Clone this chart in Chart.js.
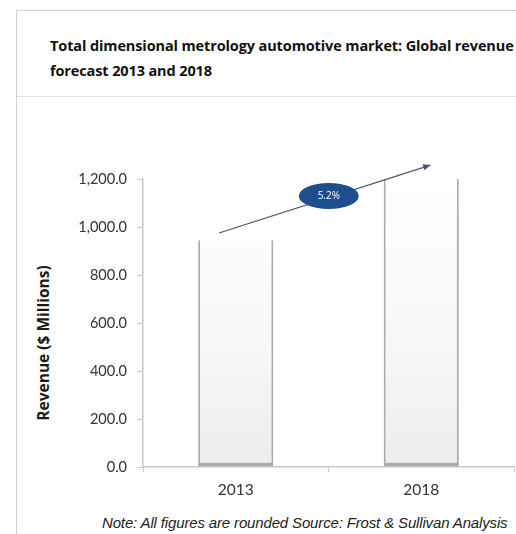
<!DOCTYPE html>
<html><head><meta charset="utf-8">
<script src="https://cdn.jsdelivr.net/npm/chart.js@4.4.0/dist/chart.umd.min.js"></script>
<style>
html,body{margin:0;padding:0;background:#fff;width:516px;height:534px;overflow:hidden;position:relative;}
.line{position:absolute;background:#d2d2d2;}
#title{position:absolute;left:50px;top:33px;font-family:"Open Sans",sans-serif;font-weight:700;font-size:14.5px;line-height:25px;color:#111;letter-spacing:-0.12px;white-space:nowrap;}
#note{position:absolute;left:102px;top:514px;font-family:"Liberation Sans",Arial,sans-serif;font-style:italic;font-size:15px;line-height:18px;color:#222;white-space:nowrap;letter-spacing:-0.15px;}
#ytitle{position:absolute;left:43px;top:343px;transform:translate(-50%,-50%) rotate(-90deg);font-family:"Open Sans",sans-serif;font-weight:700;font-size:15.5px;line-height:18px;color:#1a1a1a;white-space:nowrap;}
#wrap{position:absolute;left:0;top:0;width:516px;height:534px;}
</style></head>
<body>
<div class="line" style="left:16px;top:10px;width:1px;height:524px;"></div>
<div class="line" style="left:16px;top:10px;width:500px;height:1px;"></div>
<div class="line" style="left:17px;top:96px;width:499px;height:1px;background:#e4e4e4;"></div>
<div id="title">Total dimensional metrology automotive market: Global revenue<br>forecast 2013 and 2018</div>
<div id="note">Note: All figures are rounded Source: Frost &amp; Sullivan Analysis</div>
<div id="ytitle">Revenue ($ Millions)</div>
<div id="wrap"><canvas id="c" width="516" height="534"></canvas></div>
<script>
const categories = ['2013', '2018'];
const revenue = [945, 1200];
const yTicks = [0, 200, 400, 600, 800, 1000, 1200];
const growthLabel = '5.2%';
const arrowStart = [-0.09, 975];
const arrowEnd = [1.05, 1258];

const annot = {
  id: 'annot',
  afterDatasetsDraw(chart) {
    const {ctx, scales: {x, y}} = chart;
    const x1 = x.getPixelForValue(arrowStart[0]), y1 = y.getPixelForValue(arrowStart[1]);
    const x2 = x.getPixelForValue(arrowEnd[0]), y2 = y.getPixelForValue(arrowEnd[1]);
    ctx.save();
    ctx.strokeStyle = '#4a5570';
    ctx.fillStyle = '#4a5570';
    ctx.lineWidth = 1.3;
    ctx.beginPath(); ctx.moveTo(x1, y1); ctx.lineTo(x2, y2); ctx.stroke();
    const ang = Math.atan2(y2 - y1, x2 - x1);
    ctx.beginPath();
    ctx.moveTo(x2, y2);
    ctx.lineTo(x2 - 8 * Math.cos(ang - 0.4), y2 - 8 * Math.sin(ang - 0.4));
    ctx.lineTo(x2 - 8 * Math.cos(ang + 0.4), y2 - 8 * Math.sin(ang + 0.4));
    ctx.closePath(); ctx.fill();
    const cx = (x1 + x2) / 2 + 4, cy = (y1 + y2) / 2 - 3;
    ctx.fillStyle = '#1d4e8f';
    ctx.beginPath(); ctx.ellipse(cx, cy, 30, 13, 0, 0, Math.PI * 2); ctx.fill();
    ctx.fillStyle = '#ffffff';
    ctx.font = '10px "Open Sans", sans-serif';
    ctx.textAlign = 'center'; ctx.textBaseline = 'middle';
    ctx.fillText(growthLabel, cx, cy);
    ctx.restore();
  }
};

new Chart(document.getElementById('c'), {
  type: 'bar',
  data: {
    labels: categories,
    datasets: [{
      data: revenue,
      backgroundColor(ctx) {
        const ca = ctx.chart.chartArea;
        if (!ca) return '#f2f2f2';
        const g = ctx.chart.ctx.createLinearGradient(0, ca.top, 0, ca.bottom);
        g.addColorStop(0, '#ffffff');
        g.addColorStop(0.6, '#f7f7f7');
        g.addColorStop(1, '#ececec');
        return g;
      },
      borderColor: '#ababab',
      borderWidth: {left: 2, right: 2, bottom: 4, top: 0},
      borderSkipped: false,
      categoryPercentage: 1,
      barPercentage: 0.405
    }]
  },
  options: {
    responsive: false,
    animation: false,
    events: [],
    layout: {padding: {top: 179, right: 2, left: 0, bottom: 0}},
    plugins: {legend: {display: false}, tooltip: {enabled: false}},
    scales: {
      x: {
        grid: {offset: true, drawOnChartArea: false, drawTicks: true, tickLength: 5, color: '#c8c8c8'},
        border: {color: '#c8c8c8', width: 1.5},
        ticks: {color: '#333', font: {family: 'Lato', size: 15.5}, padding: 9},
        afterFit(s) { s.height = 67; }
      },
      y: {
        min: 0, max: 1200,
        afterBuildTicks(s) { s.ticks = yTicks.map(v => ({value: v})); },
        grid: {drawOnChartArea: false, drawTicks: true, tickLength: 6, color: '#c8c8c8'},
        border: {color: '#c8c8c8', width: 1.5},
        ticks: {
          color: '#333', font: {family: 'Lato', size: 14.5}, padding: 10,
          callback: v => v.toLocaleString('en-US', {minimumFractionDigits: 1, maximumFractionDigits: 1})
        },
        afterFit(s) { s.width = 143; }
      }
    }
  },
  plugins: [annot]
});
</script>
</body></html>
